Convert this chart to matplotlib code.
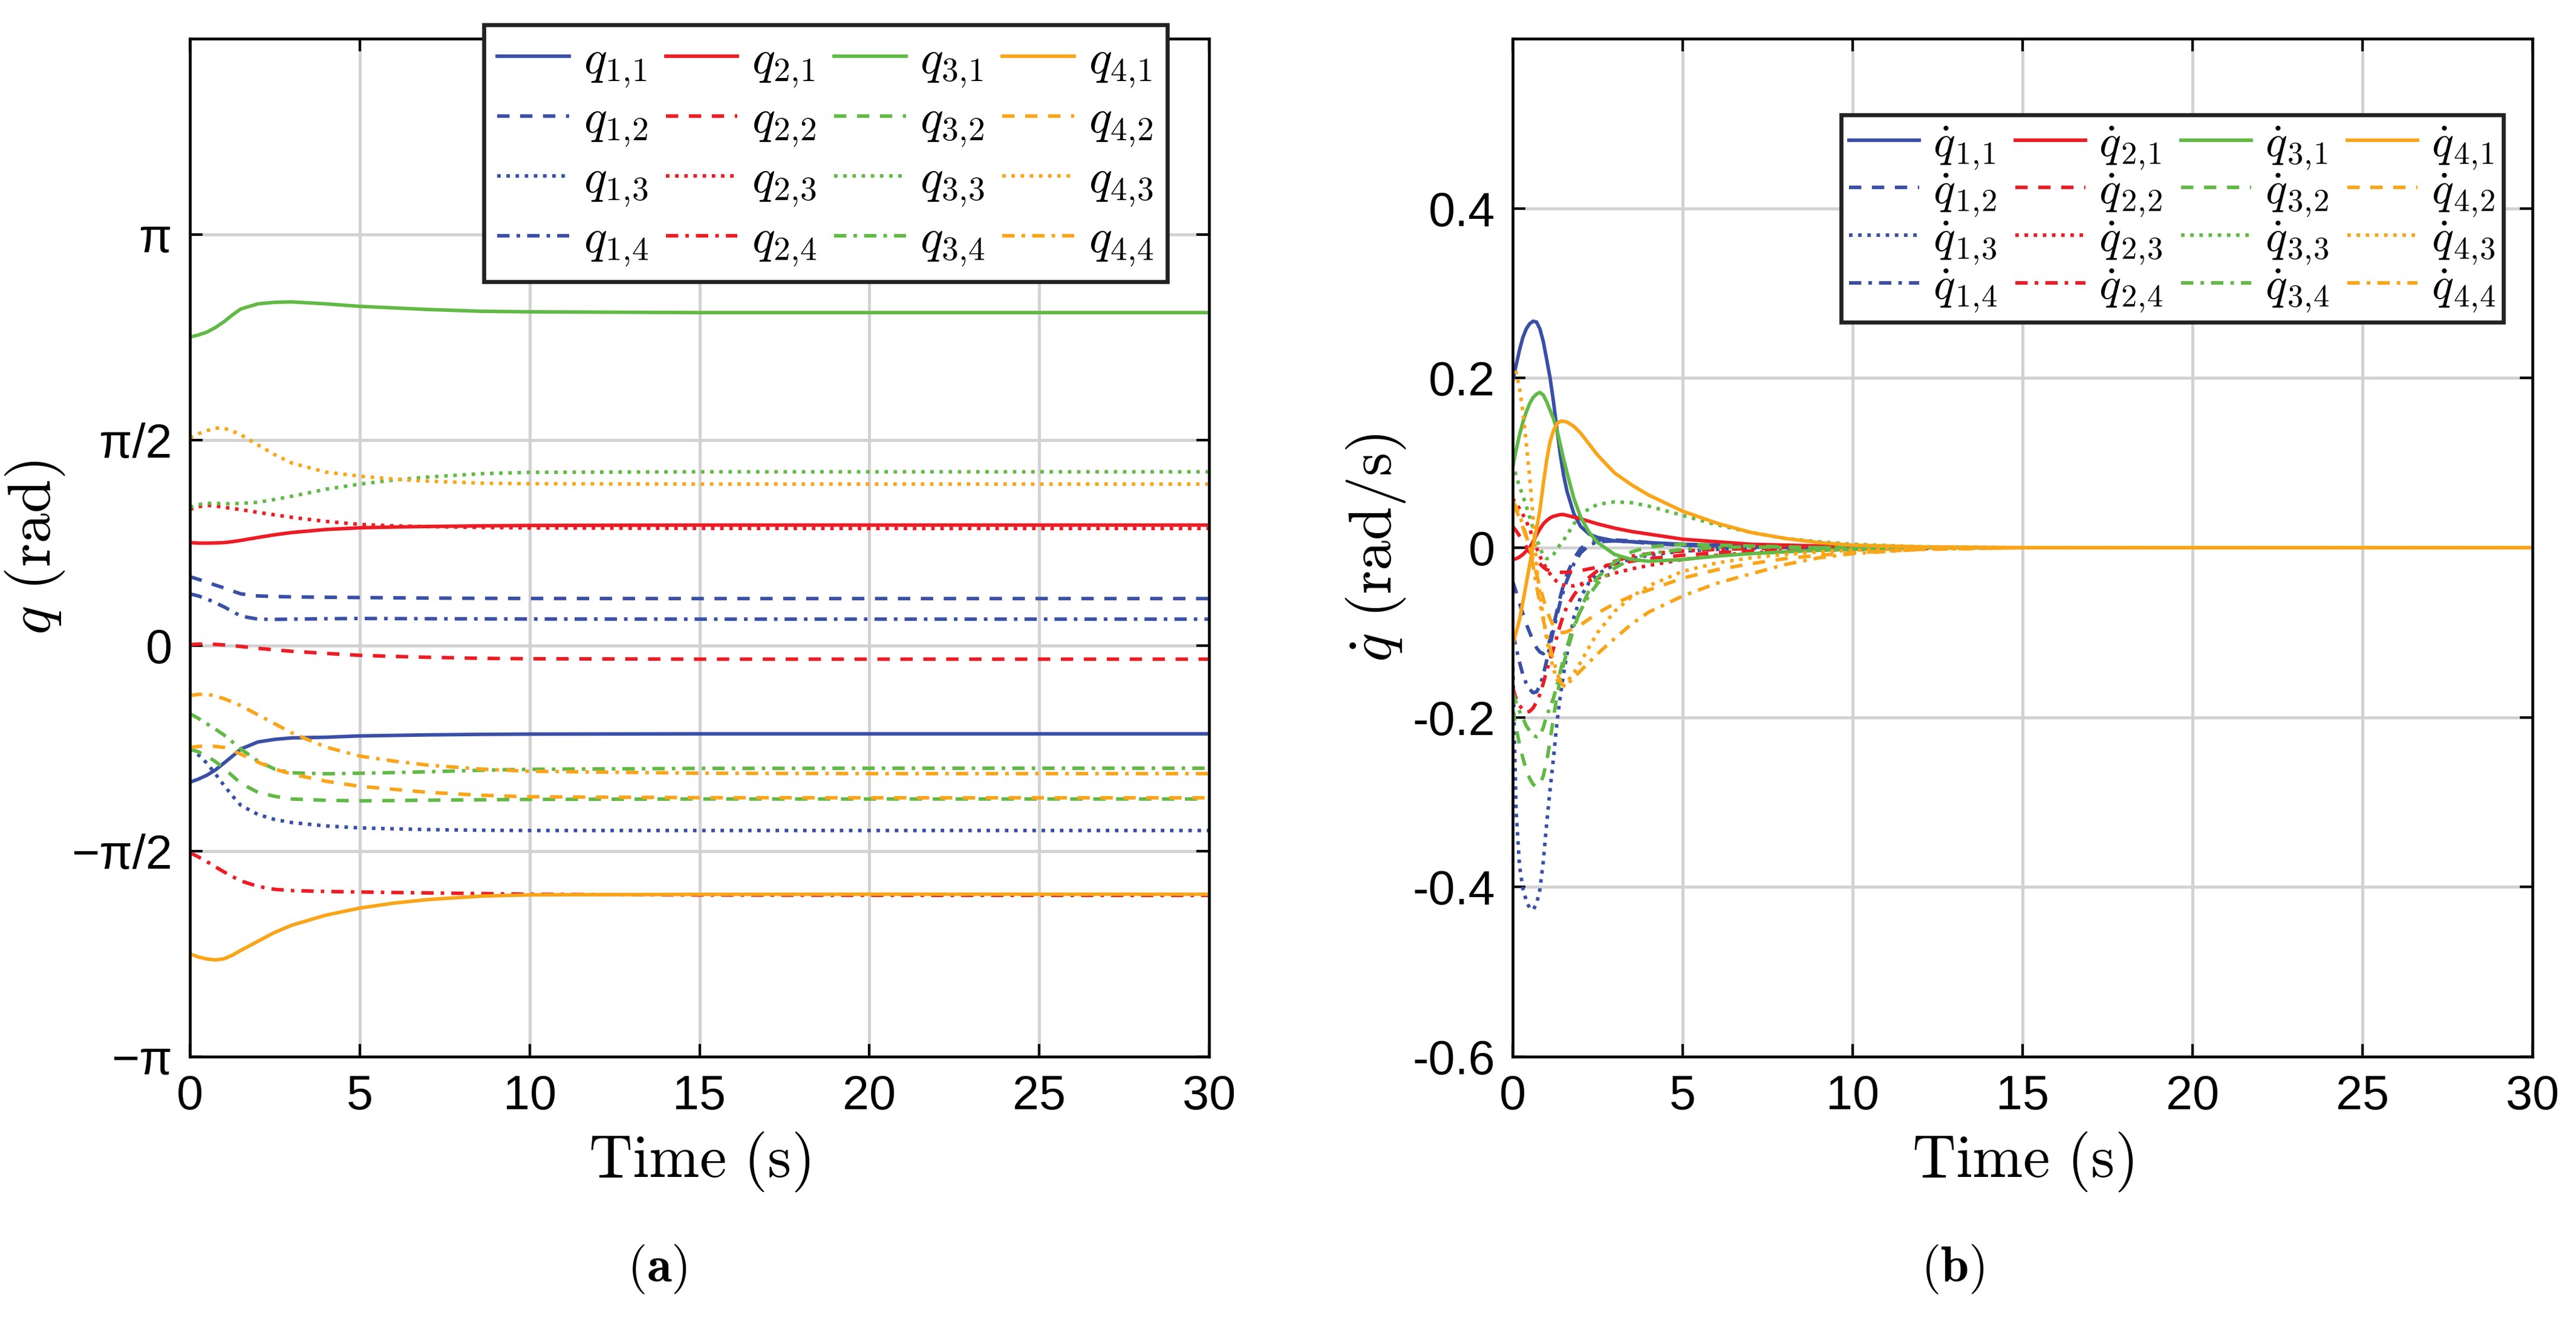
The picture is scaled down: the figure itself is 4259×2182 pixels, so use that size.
import numpy as np
import matplotlib
matplotlib.use('Agg')
import matplotlib.pyplot as plt

plt.rcParams['font.family'] = ['Liberation Sans', 'DejaVu Sans']
plt.rcParams['mathtext.fontset'] = 'cm'
plt.rcParams['axes.unicode_minus'] = False

# ---- joint angles q_{i,j} (rad)
t_q = [0, 0.25, 0.5, 0.75, 1, 1.25, 1.5, 2, 2.5, 3, 4, 5, 6, 7, 8.6, 10, 15, 20, 30]

q11 = [-1.044, -1.020, -0.990, -0.950, -0.898, -0.845, -0.790, -0.736, -0.716, -0.705, -0.700, -0.690, -0.686, -0.682, -0.678, -0.676, -0.674, -0.674, -0.674]
q12 = [0.527, 0.507, 0.485, 0.463, 0.442, 0.418, 0.396, 0.380, 0.376, 0.373, 0.370, 0.368, 0.366, 0.364, 0.362, 0.361, 0.360, 0.360, 0.360]
q13 = [-0.790, -0.835, -0.898, -0.980, -1.067, -1.148, -1.221, -1.290, -1.329, -1.352, -1.378, -1.393, -1.400, -1.406, -1.411, -1.413, -1.413, -1.413, -1.413]
q14 = [0.396, 0.380, 0.357, 0.328, 0.297, 0.262, 0.226, 0.203, 0.201, 0.203, 0.206, 0.208, 0.207, 0.206, 0.205, 0.204, 0.203, 0.203, 0.203]

q21 = [0.788, 0.784, 0.784, 0.785, 0.788, 0.795, 0.805, 0.827, 0.848, 0.865, 0.888, 0.901, 0.907, 0.911, 0.916, 0.919, 0.922, 0.922, 0.922]
q22 = [0.008, 0.012, 0.012, 0.010, 0.006, 0.000, -0.006, -0.020, -0.032, -0.043, -0.059, -0.074, -0.082, -0.089, -0.097, -0.100, -0.103, -0.103, -0.103]
q23 = [1.042, 1.062, 1.073, 1.068, 1.058, 1.049, 1.040, 1.019, 1.000, 0.981, 0.950, 0.927, 0.916, 0.910, 0.904, 0.900, 0.897, 0.896, 0.896]
q24 = [-1.582, -1.615, -1.651, -1.690, -1.729, -1.765, -1.798, -1.840, -1.863, -1.872, -1.879, -1.883, -1.887, -1.890, -1.895, -1.900, -1.906, -1.908, -1.909]

q31 = [2.359, 2.375, 2.397, 2.432, 2.476, 2.528, 2.574, 2.613, 2.625, 2.628, 2.613, 2.594, 2.582, 2.570, 2.556, 2.552, 2.546, 2.546, 2.546]
q32 = [-0.790, -0.812, -0.844, -0.886, -0.936, -0.995, -1.052, -1.121, -1.152, -1.172, -1.182, -1.186, -1.184, -1.181, -1.178, -1.175, -1.172, -1.172, -1.172]
q33 = [1.058, 1.078, 1.089, 1.088, 1.085, 1.086, 1.088, 1.096, 1.118, 1.142, 1.196, 1.235, 1.266, 1.289, 1.315, 1.325, 1.329, 1.329, 1.329]
q34 = [-0.520, -0.556, -0.597, -0.638, -0.682, -0.735, -0.790, -0.882, -0.944, -0.972, -0.979, -0.975, -0.970, -0.964, -0.952, -0.945, -0.938, -0.937, -0.937]

q41 = [-2.356, -2.380, -2.395, -2.402, -2.394, -2.366, -2.329, -2.260, -2.191, -2.137, -2.060, -2.006, -1.968, -1.941, -1.914, -1.905, -1.901, -1.900, -1.900]
q42 = [-0.778, -0.770, -0.767, -0.770, -0.778, -0.801, -0.829, -0.890, -0.944, -0.982, -1.036, -1.075, -1.098, -1.121, -1.144, -1.155, -1.162, -1.163, -1.163]
q43 = [1.589, 1.620, 1.643, 1.664, 1.662, 1.641, 1.612, 1.535, 1.460, 1.396, 1.327, 1.296, 1.273, 1.258, 1.242, 1.238, 1.235, 1.235, 1.235]
q44 = [-0.382, -0.372, -0.370, -0.385, -0.405, -0.430, -0.459, -0.528, -0.597, -0.667, -0.775, -0.844, -0.882, -0.913, -0.944, -0.960, -0.975, -0.978, -0.978]

# ---- joint velocities qdot_{i,j} (rad/s)
t_dq = [0, 0.1, 0.2, 0.3, 0.4, 0.5, 0.6, 0.7, 0.8, 0.9, 1.0, 1.1, 1.2, 1.3, 1.4, 1.5, 1.6,
        1.8, 2.0, 2.25, 2.5, 3.0, 3.5, 4, 5, 6, 7, 8, 9, 10, 12, 15, 20, 30]

dq11 = [0.196, 0.215, 0.233, 0.248, 0.258, 0.264, 0.267, 0.266, 0.258, 0.243, 0.222, 0.200, 0.172, 0.140, 0.110, 0.085, 0.066,
        0.040, 0.025, 0.016, 0.012, 0.008, 0.007, 0.006, 0.004, 0.003, 0.002, 0.001, 0.0005, 0, 0, 0, 0, 0]
dq12 = [-0.040, -0.052, -0.065, -0.078, -0.090, -0.100, -0.110, -0.118, -0.123, -0.125, -0.120, -0.108, -0.092, -0.075, -0.058, -0.043, -0.031,
        -0.013, -0.001, 0.006, 0.009, 0.009, 0.008, 0.006, 0.003, 0.002, 0.001, 0.0005, 0, 0, 0, 0, 0, 0]
dq13 = [-0.130, -0.310, -0.375, -0.402, -0.416, -0.425, -0.427, -0.420, -0.403, -0.370, -0.325, -0.285, -0.248, -0.207, -0.175, -0.148, -0.125,
        -0.082, -0.058, -0.041, -0.031, -0.020, -0.013, -0.009, -0.004, -0.002, -0.001, 0, 0, 0, 0, 0, 0, 0]
dq14 = [-0.100, -0.118, -0.135, -0.150, -0.160, -0.167, -0.171, -0.170, -0.163, -0.150, -0.133, -0.115, -0.097, -0.080, -0.064, -0.050, -0.038,
        -0.019, -0.006, 0.003, 0.007, 0.008, 0.007, 0.005, 0.003, 0.002, 0.001, 0, 0, 0, 0, 0, 0, 0]

dq21 = [-0.014, -0.013, -0.011, -0.008, -0.004, 0.000, 0.007, 0.015, 0.022, 0.028, 0.032, 0.035, 0.037, 0.038, 0.039, 0.039, 0.038,
        0.036, 0.034, 0.031, 0.028, 0.023, 0.019, 0.016, 0.010, 0.007, 0.004, 0.003, 0.002, 0.001, 0, 0, 0, 0]
dq22 = [0.025, 0.020, 0.014, 0.008, 0.001, -0.005, -0.010, -0.015, -0.019, -0.023, -0.026, -0.027, -0.028, -0.029, -0.029, -0.029, -0.029,
        -0.028, -0.027, -0.025, -0.023, -0.019, -0.016, -0.013, -0.009, -0.006, -0.004, -0.003, -0.002, -0.001, 0, 0, 0, 0]
dq23 = [0.058, 0.052, 0.046, 0.039, 0.031, 0.022, 0.011, 0.000, -0.010, -0.018, -0.025, -0.031, -0.036, -0.040, -0.043, -0.044, -0.045,
        -0.045, -0.043, -0.039, -0.036, -0.030, -0.025, -0.021, -0.014, -0.009, -0.006, -0.004, -0.003, -0.002, -0.001, 0, 0, 0]
dq24 = [-0.165, -0.178, -0.186, -0.191, -0.194, -0.193, -0.189, -0.182, -0.173, -0.160, -0.145, -0.132, -0.119, -0.105, -0.091, -0.079, -0.069,
        -0.056, -0.045, -0.035, -0.027, -0.016, -0.010, -0.007, -0.004, -0.002, -0.001, 0, 0, 0, 0, 0, 0, 0]

dq31 = [0.095, 0.115, 0.133, 0.148, 0.160, 0.170, 0.177, 0.181, 0.183, 0.180, 0.172, 0.162, 0.152, 0.139, 0.122, 0.104, 0.088,
        0.058, 0.036, 0.018, 0.006, -0.008, -0.014, -0.016, -0.014, -0.010, -0.007, -0.005, -0.003, -0.002, 0, 0, 0, 0]
dq32 = [-0.190, -0.212, -0.232, -0.248, -0.262, -0.272, -0.279, -0.282, -0.279, -0.269, -0.252, -0.228, -0.200, -0.175, -0.155, -0.137, -0.122,
        -0.095, -0.072, -0.050, -0.035, -0.017, -0.005, 0.001, 0.004, 0.003, 0.002, 0.001, 0, 0, 0, 0, 0, 0]
dq33 = [0.100, 0.085, 0.072, 0.061, 0.049, 0.036, 0.023, 0.011, 0.000, -0.009, -0.013, -0.012, -0.008, -0.002, 0.004, 0.009, 0.015,
        0.028, 0.039, 0.046, 0.051, 0.054, 0.053, 0.049, 0.038, 0.027, 0.018, 0.011, 0.007, 0.004, 0.001, 0, 0, 0]
dq34 = [-0.170, -0.183, -0.193, -0.201, -0.210, -0.216, -0.221, -0.223, -0.221, -0.212, -0.198, -0.188, -0.177, -0.163, -0.146, -0.130, -0.116,
        -0.092, -0.074, -0.056, -0.042, -0.024, -0.013, -0.007, -0.002, 0.000, 0.001, 0, 0, 0, 0, 0, 0, 0]

dq41 = [-0.115, -0.100, -0.085, -0.064, -0.042, -0.020, 0.002, 0.022, 0.044, 0.075, 0.103, 0.125, 0.138, 0.146, 0.149, 0.149, 0.148,
        0.143, 0.135, 0.122, 0.109, 0.088, 0.074, 0.062, 0.043, 0.029, 0.018, 0.011, 0.006, 0.003, 0.001, 0, 0, 0]
dq42 = [0.050, 0.044, 0.035, 0.024, 0.012, 0.000, -0.015, -0.031, -0.046, -0.060, -0.073, -0.084, -0.092, -0.097, -0.100, -0.100, -0.099,
        -0.095, -0.091, -0.084, -0.077, -0.066, -0.057, -0.050, -0.036, -0.026, -0.019, -0.013, -0.009, -0.006, -0.002, 0, 0, 0]
dq43 = [0.195, 0.207, 0.188, 0.160, 0.123, 0.083, 0.035, -0.022, -0.054, -0.082, -0.108, -0.127, -0.143, -0.155, -0.162, -0.163, -0.158,
        -0.148, -0.135, -0.117, -0.100, -0.075, -0.058, -0.045, -0.028, -0.018, -0.012, -0.008, -0.005, -0.003, -0.001, 0, 0, 0]
dq44 = [0.055, 0.048, 0.038, 0.027, 0.014, 0.000, -0.022, -0.045, -0.066, -0.085, -0.102, -0.118, -0.133, -0.147, -0.158, -0.163, -0.161,
        -0.153, -0.145, -0.135, -0.125, -0.107, -0.090, -0.076, -0.057, -0.042, -0.031, -0.020, -0.012, -0.007, -0.002, 0, 0, 0]

q_all = [[q11, q12, q13, q14], [q21, q22, q23, q24], [q31, q32, q33, q34], [q41, q42, q43, q44]]
dq_all = [[dq11, dq12, dq13, dq14], [dq21, dq22, dq23, dq24], [dq31, dq32, dq33, dq34], [dq41, dq42, dq43, dq44]]

colors = ['#3a4fa6', '#ec1c24', '#62b946', '#f9a51a']
styles = ['-', (0, (3.5, 3.0)), (0, (1.0, 1.6)), (0, (3.5, 2.0, 1.0, 2.0))]

fig = plt.figure(figsize=(4259 / 300, 2182 / 300))
ax1 = fig.add_axes([314 / 4259, 434 / 2182, 1685 / 4259, 1684 / 2182])
ax2 = fig.add_axes([2501 / 4259, 434 / 2182, 1686 / 4259, 1684 / 2182])

lw = 1.4
for ax, t, data, sym in [(ax1, t_q, q_all, 'q'), (ax2, t_dq, dq_all, r'\dot{q}')]:
    for i in range(4):
        for j in range(4):
            ax.plot(t, data[i][j], color=colors[i], linestyle=styles[j], lw=lw,
                    label=r'$%s_{%d,\!%d}$' % (sym, i + 1, j + 1))
    ax.set_xlim(0, 30)
    ax.set_xticks([0, 5, 10, 15, 20, 25, 30])
    ax.grid(True, color='#d2d2d2', lw=1.2)
    ax.set_axisbelow(True)
    ax.tick_params(direction='in', top=True, right=True, length=5, width=1.0,
                   labelsize=19, pad=7)
    for s in ax.spines.values():
        s.set_linewidth(1.1)
    ax.set_xlabel(r'$\mathrm{Time\ (s)}$', fontsize=24, labelpad=4)

# panel (a)
ax1.set_ylim(-np.pi, 4.64)
ax1.set_yticks([-np.pi, -np.pi / 2, 0, np.pi / 2, np.pi])
ax1.set_yticklabels(['\u2212\u03c0', '\u2212\u03c0/2', '0', '\u03c0/2', '\u03c0'])
ax1.set_ylabel(r'$q\ \mathrm{(rad)}$', fontsize=24, labelpad=2)
leg1 = ax1.legend(ncol=4, loc='upper right', bbox_to_anchor=(0.959, 1.0137),
                  borderaxespad=0, fontsize=19, handlelength=1.5, handletextpad=0.3,
                  columnspacing=0.35, labelspacing=0.18, borderpad=0.28,
                  fancybox=False, edgecolor='#222222', framealpha=1)
leg1.get_frame().set_linewidth(1.6)
leg1.set_zorder(5)

# panel (b)
ax2.set_ylim(-0.6, 0.6)
ax2.set_yticks([-0.6, -0.4, -0.2, 0, 0.2, 0.4])
ax2.set_yticklabels(['-0.6', '-0.4', '-0.2', '0', '0.2', '0.4'])
ax2.set_ylabel(r'$\dot{q}\ \mathrm{(rad/s)}$', fontsize=24, labelpad=2)
leg2 = ax2.legend(ncol=4, loc='upper right', bbox_to_anchor=(0.9715, 0.925),
                  borderaxespad=0, fontsize=18, handlelength=1.55, handletextpad=0.3,
                  columnspacing=0.4, labelspacing=0.0, borderpad=0.18,
                  fancybox=False, edgecolor='#222222', framealpha=1)
leg2.get_frame().set_linewidth(1.6)
leg2.set_zorder(5)

fig.text(0.255, 0.038, r'$(\mathbf{a})$', ha='center', va='center', fontsize=20)
fig.text(0.758, 0.038, r'$(\mathbf{b})$', ha='center', va='center', fontsize=20)

fig.savefig('out.png', dpi=300)
